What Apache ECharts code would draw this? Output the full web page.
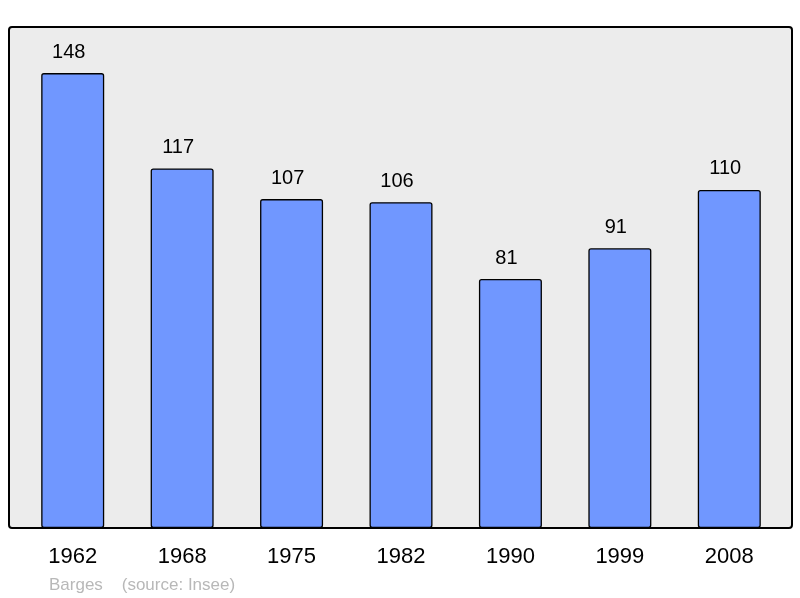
<!DOCTYPE html>
<html><head><meta charset="utf-8">
<script src="https://cdn.jsdelivr.net/npm/echarts@6/dist/echarts.min.js"></script>
<style>html,body{margin:0;padding:0;background:#fff}#c{width:800px;height:598px}</style>
</head><body><div id="c"></div>
<script>
const years = ['1962','1968','1975','1982','1990','1999','2008'];
const population = [148,117,107,106,81,91,110];
const footer = 'Barges    (source: Insee)';

const chart = echarts.init(document.getElementById('c'), null, {renderer:'canvas'});
chart.setOption({
  animation:false,
  backgroundColor:'#ffffff',
  graphic:[{
    type:'rect', z:-10, silent:true,
    shape:{x:9,y:27,width:783,height:501,r:3},
    style:{fill:'#ececec',stroke:'#000',lineWidth:2}
  }],
  title:{
    text:footer, left:44, top:572,
    textStyle:{fontFamily:'Liberation Sans',fontSize:17,fontWeight:'normal',color:'#b8b8b8'}
  },
  grid:{left:18,width:766,top:27,height:501},
  xAxis:{
    type:'category', data:years,
    axisLine:{show:false}, axisTick:{show:false},
    axisLabel:{fontFamily:'Liberation Sans',fontSize:22,color:'#000',margin:18}
  },
  yAxis:{type:'value',min:0,max:163,show:false,splitLine:{show:false}},
  series:[{
    type:'bar', data:population, barWidth:63,
    itemStyle:{color:'#7097ff',borderColor:'#000',borderWidth:1.3,borderRadius:2},
    label:{show:true,position:'top',distance:11,offset:[-4,0],fontFamily:'Liberation Sans',fontSize:20,color:'#000'}
  }]
});
</script></body></html>
